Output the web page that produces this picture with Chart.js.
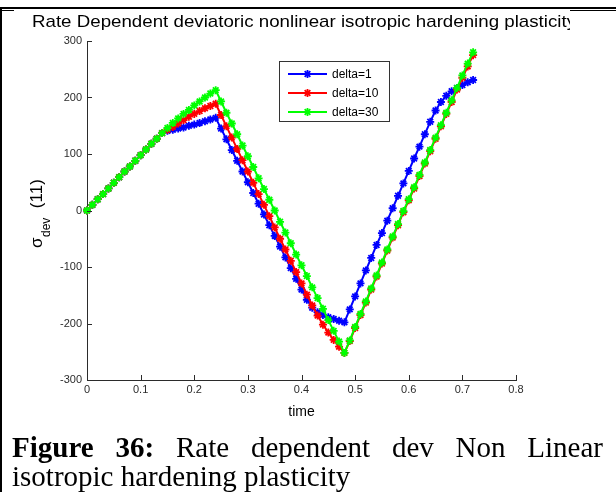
<!DOCTYPE html>
<html><head><meta charset="utf-8">
<script src="https://cdn.jsdelivr.net/npm/chart.js@4"></script>
<style>
body{margin:0;background:#fff;width:616px;height:492px;overflow:hidden;position:relative;font-family:"Liberation Sans",Arial,sans-serif}
#wrap{position:absolute;left:0;top:0;width:616px;height:440px}
.ln{position:absolute;background:#000}
.cap{position:absolute;left:12px;width:591px;font-family:"Liberation Serif","Times New Roman",serif;font-size:29px;line-height:29px;color:#000;white-space:nowrap}
#cap1{top:433px;text-align:justify;text-align-last:justify;white-space:normal}
#cap2{top:462px}
</style></head>
<body>
<div id="wrap"><canvas id="c" width="616" height="440"></canvas></div>
<div class="ln" style="left:0;top:7px;width:616px;height:2px"></div>
<div class="ln" style="left:0;top:10px;width:14px;height:1px"></div>
<div class="ln" style="left:570px;top:10px;width:46px;height:1px"></div>
<div class="ln" style="left:0;top:7px;width:2px;height:485px"></div>
<div class="cap" id="cap1"><b>Figure 36:</b> Rate dependent dev Non Linear</div>
<div class="cap" id="cap2">isotropic hardening plasticity</div>
<script>
const chartTitle = "Rate Dependent deviatoric nonlinear isotropic hardening plasticity";
const xTitle = "time";
const xTicks = [0, 0.1, 0.2, 0.3, 0.4, 0.5, 0.6, 0.7, 0.8];
const yTicks = [-300, -200, -100, 0, 100, 200, 300];
const seriesNames = ["delta=1", "delta=10", "delta=30"];
const seriesColors = ["#0000ff", "#ff0000", "#00ff00"];

const times = [0.00,0.01,0.02,0.03,0.04,0.05,0.06,0.07,0.08,0.09,
  0.10,0.11,0.12,0.13,0.14,0.15,0.16,0.17,0.18,0.19,
  0.20,0.21,0.22,0.23,0.24,0.25,0.26,0.27,0.28,0.29,
  0.30,0.31,0.32,0.33,0.34,0.35,0.36,0.37,0.38,0.39,
  0.40,0.41,0.42,0.43,0.44,0.45,0.46,0.47,0.48,0.49,
  0.50,0.51,0.52,0.53,0.54,0.55,0.56,0.57,0.58,0.59,
  0.60,0.61,0.62,0.63,0.64,0.65,0.66,0.67,0.68,0.69,
  0.70,0.71,0.72];

const delta1 = [0,10,20,29,39,49,59,69,78,88,
  98,108,118,127,137,141,143,145,147,150,
  152,155,158,161,164,145,126,107,88,69,
  50,31,12,-7,-26,-45,-64,-83,-102,-121,
  -140,-158,-172,-180,-185,-189,-192,-195,-198,-175,
  -152,-129,-106,-84,-61,-40,-18,4,26,48,
  70,92,113,135,157,177,192,203,211,217,
  222,227,231];

const delta10 = [0,10,20,29,39,49,59,69,78,88,
  98,108,118,127,137,143,148,154,160,166,
  171,176,181,185,189,169,149,129,109,89,
  69,49,29,10,-10,-30,-50,-69,-89,-109,
  -129,-149,-168,-186,-202,-216,-229,-241,-252,-231,
  -208,-185,-163,-140,-117,-94,-71,-48,-26,-3,
  18,39,61,83,105,127,149,171,192,214,
  235,255,275];

const delta30 = [0,10,20,29,39,49,59,69,78,88,
  98,108,118,127,137,146,155,163,171,178,
  186,193,200,207,213,193,173,154,135,115,
  96,77,57,38,19,0,-20,-39,-58,-78,
  -97,-116,-136,-155,-174,-194,-213,-232,-252,-230,
  -206,-183,-161,-138,-115,-92,-69,-46,-24,-1,
  20,41,63,85,107,129,151,173,195,217,
  239,260,280];

const seriesValues = [delta1, delta10, delta30];

const AXC = "#2b2b2b";
const FONT = '"Liberation Sans", Arial, sans-serif';

const datasets = seriesValues.map((vals, i) => ({
  label: seriesNames[i],
  data: times.map((t, k) => ({x: t, y: vals[k]})),
  borderColor: seriesColors[i],
  backgroundColor: seriesColors[i],
  borderWidth: 2,
  pointStyle: 'star',
  pointRadius: 4,
  pointBorderWidth: 1.8,
  pointBorderColor: seriesColors[i],
  tension: 0,
  clip: false,
  order: 3 - i
}));

const decor = {
  id: 'decor',
  afterDraw(chart) {
    const ctx = chart.ctx;
    const xs = chart.scales.x, ys = chart.scales.y;
    const a = chart.chartArea;
    ctx.save();
    // inward tick marks
    ctx.strokeStyle = AXC; ctx.lineWidth = 1;
    ctx.beginPath();
    xTicks.forEach(v => { const px = Math.round(xs.getPixelForValue(v)) + 0.5; ctx.moveTo(px, a.bottom); ctx.lineTo(px, a.bottom - 5); });
    yTicks.forEach(v => { const py = Math.round(ys.getPixelForValue(v)) + 0.5; ctx.moveTo(a.left, py); ctx.lineTo(a.left + 5, py); });
    ctx.stroke();
    // title (clipped at right like the reference)
    ctx.save();
    ctx.beginPath(); ctx.rect(0, 0, 570, 40); ctx.clip();
    ctx.fillStyle = '#000'; ctx.font = '17px ' + FONT; ctx.textAlign = 'left'; ctx.textBaseline = 'alphabetic';
    const tw = ctx.measureText(chartTitle).width;
    ctx.translate(32, 27); ctx.scale(544 / tw, 1);
    ctx.fillText(chartTitle, 0, 0);
    ctx.restore();
    // x title
    ctx.fillStyle = '#000'; ctx.font = '14px ' + FONT; ctx.textAlign = 'center'; ctx.textBaseline = 'alphabetic';
    ctx.fillText(xTitle, (a.left + a.right) / 2, 416);
    // y title sigma_dev (11)
    ctx.save();
    ctx.translate(42, 248); ctx.rotate(-Math.PI / 2);
    ctx.textAlign = 'left'; ctx.textBaseline = 'alphabetic';
    ctx.font = '17px ' + FONT; ctx.fillText('σ', 0, 0);
    const w1 = ctx.measureText('σ').width;
    ctx.font = '12px ' + FONT; ctx.fillText('dev', w1 + 0.5, 8);
    const w2 = ctx.measureText('dev').width;
    ctx.font = '17px ' + FONT; ctx.fillText('(11)', w1 + w2 + 10, 0);
    ctx.restore();
    // legend
    const lx = 279.5, ly = 61.5, lw = 110, lh = 60;
    ctx.fillStyle = '#fff'; ctx.fillRect(lx, ly, lw, lh);
    ctx.strokeStyle = '#333'; ctx.lineWidth = 1; ctx.strokeRect(lx, ly, lw, lh);
    chart.data.datasets.forEach((ds, i) => {
      const y = 74 + i * 19;
      ctx.strokeStyle = ds.borderColor; ctx.lineWidth = 2;
      ctx.beginPath(); ctx.moveTo(288, y); ctx.lineTo(327, y); ctx.stroke();
      ctx.lineWidth = 1.8;
      Chart.helpers.drawPoint(ctx, {pointStyle: 'star', radius: 4, rotation: 0, borderWidth: 1.8}, 307.5, y);
      ctx.fillStyle = '#000'; ctx.font = '12px ' + FONT; ctx.textAlign = 'left'; ctx.textBaseline = 'middle';
      ctx.fillText(ds.label, 332, y + 0.5);
    });
    ctx.restore();
  }
};

new Chart(document.getElementById('c'), {
  type: 'line',
  data: { datasets },
  options: {
    responsive: false,
    animation: false,
    devicePixelRatio: 1,
    layout: { padding: { left: 0, top: 41, right: 100, bottom: 0 } },
    plugins: { legend: { display: false }, title: { display: false }, tooltip: { enabled: false } },
    scales: {
      x: {
        type: 'linear', min: 0, max: 0.8,
        afterBuildTicks: s => { s.ticks = xTicks.map(v => ({value: v})); },
        afterFit: s => { s.height = 60; },
        ticks: { color: AXC, font: { family: FONT, size: 11 }, padding: 3, maxRotation: 0, autoSkip: false,
                 callback: v => String(v) },
        grid: { display: true, drawOnChartArea: false, drawTicks: false },
        border: { display: true, color: AXC, width: 1 }
      },
      y: {
        type: 'linear', min: -300, max: 300,
        afterBuildTicks: s => { s.ticks = yTicks.map(v => ({value: v})); },
        afterFit: s => { s.width = 87; },
        ticks: { color: AXC, font: { family: FONT, size: 11 }, padding: 5, autoSkip: false,
                 callback: v => String(v) },
        grid: { display: true, drawOnChartArea: false, drawTicks: false },
        border: { display: true, color: AXC, width: 1 }
      }
    }
  },
  plugins: [decor]
});
</script>
</body></html>
